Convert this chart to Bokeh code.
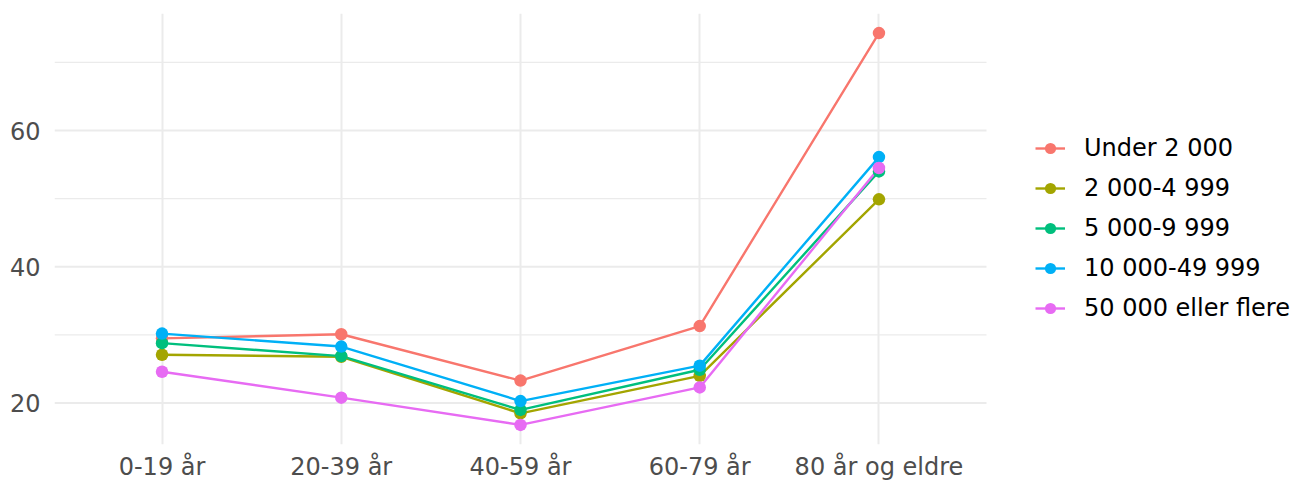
from bokeh.plotting import figure
from bokeh.models import Range1d, FixedTicker, Legend, LegendItem
from bokeh.embed import file_html
from bokeh.resources import INLINE

categories = ["0-19 år", "20-39 år", "40-59 år", "60-79 år", "80 år og eldre"]
series_names = ["Under 2 000", "2 000-4 999", "5 000-9 999", "10 000-49 999", "50 000 eller flere"]
under_2000 = [29.5, 30.1, 23.3, 31.3, 74.3]
s_2000_4999 = [27.1, 26.8, 18.5, 24.0, 49.9]
s_5000_9999 = [28.8, 26.9, 19.0, 24.9, 54.0]
s_10000_49999 = [30.2, 28.3, 20.3, 25.5, 56.1]
s_50000_plus = [24.6, 20.8, 16.8, 22.3, 54.5]
colors = ["#F8766D", "#A3A500", "#00BF7D", "#00B0F6", "#E76BF3"]
y_ticks = [20, 40, 60]
y_minor = [30, 50, 70]

series = [under_2000, s_2000_4999, s_5000_9999, s_10000_49999, s_50000_plus]
xs = list(range(len(categories)))

all_vals = [v for s in series for v in s]
lo, hi = min(all_vals), max(all_vals)
pad = (hi - lo) * 0.05

FONT = "DejaVu Sans"
FS = "24px"

# layout: the panel (data area) is 932 px wide; the frame continues to the
# right edge so the legend can sit beside the panel without being clipped
W, H = 1306, 483
LEFT = 54
PANEL_W = 932
x0, x1 = -0.6, len(categories) - 1 + 0.6
x_end = x0 + (x1 - x0) * (W - LEFT) / PANEL_W

p = figure(width=W, height=H, output_backend="svg", toolbar_location=None,
           x_range=Range1d(x0, x_end),
           y_range=Range1d(lo - pad, hi + pad),
           min_border_left=LEFT, min_border_right=0, min_border_top=13, min_border_bottom=38)
p.outline_line_color = None
p.background_fill_color = "white"
p.border_fill_color = "white"

p.xaxis.ticker = FixedTicker(ticks=xs)
p.xaxis.major_label_overrides = {i: c for i, c in enumerate(categories)}
p.yaxis.ticker = FixedTicker(ticks=y_ticks, minor_ticks=y_minor)

for ax in (p.xaxis[0], p.yaxis[0]):
    ax.axis_line_color = None
    ax.major_tick_line_color = None
    ax.minor_tick_line_color = None
    ax.major_tick_out = 0
    ax.major_tick_in = 0
    ax.minor_tick_out = 0
    ax.minor_tick_in = 0
    ax.major_label_text_font = FONT
    ax.major_label_text_font_size = FS
    ax.major_label_text_color = "#4D4D4D"
p.xaxis.major_label_standoff = 8
p.yaxis.major_label_standoff = 14

p.xgrid.grid_line_color = "#EBEBEB"
p.xgrid.grid_line_width = 2
p.ygrid.visible = False

# horizontal grid lines limited to the panel width
p.segment(x0=[x0] * len(y_minor), x1=[x1] * len(y_minor), y0=y_minor, y1=y_minor,
          line_color="#EBEBEB", line_width=1.2)
p.segment(x0=[x0] * len(y_ticks), x1=[x1] * len(y_ticks), y0=y_ticks, y1=y_ticks,
          line_color="#EBEBEB", line_width=2)

lines = []
for s, c in zip(series, colors):
    lines.append(p.line(xs, s, line_color=c, line_width=2.4))
dots = []
for s, c in zip(series, colors):
    dots.append(p.scatter(xs, s, size=12.5, fill_color=c, line_color=None))

items = [LegendItem(label=n, renderers=[l, d]) for n, l, d in zip(series_names, lines, dots)]
legend = Legend(items=items, location=(PANEL_W + 49, 122), orientation="vertical",
                margin=0, padding=0, spacing=12, glyph_width=30, glyph_height=28,
                label_height=28, label_standoff=19,
                label_text_font=FONT, label_text_font_size=FS, label_text_color="black",
                border_line_color=None, background_fill_alpha=0)
p.add_layout(legend, "center")

open("out.html", "w").write(file_html(p, INLINE))
